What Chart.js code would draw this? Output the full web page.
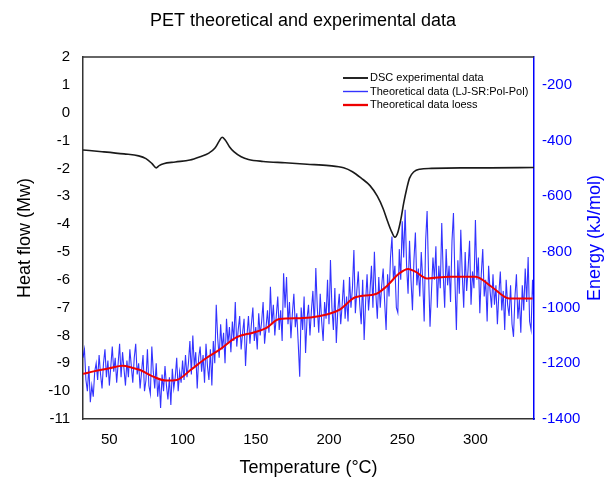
<!DOCTYPE html>
<html>
<head>
<meta charset="utf-8">
<script src="https://cdn.jsdelivr.net/npm/chart.js@4.4.1/dist/chart.umd.min.js"></script>
<style>
  body { margin: 0; background: #fff; }
  canvas { display: block; }
</style>
</head>
<body>
<canvas id="grafica" width="606" height="477"></canvas>
<script>
// DSC experimental curve (temperature °C, heat flow Mw)
const dscTemp = [32, 45, 60, 70, 75, 79, 82, 84, 87, 95, 105, 112, 118, 122, 125, 127, 129, 132, 135, 140, 145, 155, 170, 185, 200, 210, 216, 222, 228, 233, 237, 240, 243, 245, 247, 249, 251, 253, 255, 258, 262, 270, 290, 310, 340];
const dscHeat = [-1.34, -1.40, -1.48, -1.55, -1.65, -1.82, -1.98, -1.90, -1.83, -1.77, -1.70, -1.58, -1.45, -1.28, -1.02, -0.88, -0.97, -1.22, -1.40, -1.58, -1.68, -1.75, -1.80, -1.85, -1.90, -1.98, -2.12, -2.35, -2.62, -3.00, -3.45, -3.90, -4.30, -4.47, -4.30, -3.85, -3.25, -2.75, -2.35, -2.12, -2.03, -2.00, -1.98, -1.98, -1.97];

// theoretical energy (kJ/mol), one value per degree from 32 °C
const teoInicio = 32;
const teoEnergia = [
  -1180, -1150, -1260, -1300, -1210, -1340, -1280, -1320, -1230, -1200,
  -1260, -1170, -1240, -1290, -1200, -1150, -1250, -1190, -1280, -1210,
  -1140, -1230, -1180, -1270, -1200, -1130, -1250, -1160, -1220, -1280,
  -1190, -1250, -1150, -1210, -1270, -1180, -1130, -1240, -1200, -1290,
  -1230, -1170, -1300, -1260, -1150, -1280, -1310, -1140, -1230, -1290,
  -1200, -1320, -1260, -1360, -1240, -1300, -1210, -1280, -1330, -1250,
  -1350, -1220, -1290, -1250, -1180, -1300, -1230, -1270, -1190, -1260,
  -1170, -1250, -1200, -1120, -1240, -1100, -1210, -1160, -1290, -1180,
  -1140, -1230, -1170, -1270, -1130, -1210, -1260, -1150, -1280, -1120,
  -1200, -990, -1110, -1180, -1060, -1150, -1090, -1200, -1040, -1130,
  -1070, -1160, -1050, -1120, -980, -1140, -1080, -1030, -1150, -1090,
  -1040, -1210, -1100, -1030, -1130, -1060, -1000, -1120, -1070, -1150,
  -1020, -1100, -1050, -980, -1130, -1070, -1010, -1090, -925, -1060,
  -990, -1100, -1030, -960, -1080, -1010, -1120, -877, -1000, -890,
  -1060, -980, -1110, -1020, -950, -1070, -1020, -1130, -1248, -1000,
  -1080, -960, -1163, -1040, -990, -1100, -1010, -940, -1070, -858,
  -1000, -1090, -950, -1050, -1120, -980, -1040, -900, -1060, -829,
  -1000, -1080, -930, -1127, -1010, -950, -1060, -990, -900, -1040,
  -960, -1050, -890, -1000, -930, -793, -1020, -940, -870, -990,
  -1060, -900, -1116, -980, -880, -1010, -940, -850, -1000, -799,
  -950, -1040, -890, -1000, -920, -860, -980, -1080, -880, -960,
  -820, -745, -900, -850, -1000, -1018, -790, -900, -690, -820,
  -649, -850, -950, -760, -900, -1009, -830, -730, -920, -860,
  -960, -800, -900, -1050, -760, -653, -880, -1069, -940, -820,
  -900, -780, -1000, -850, -930, -696, -880, -1000, -790, -920,
  -850, -980, -760, -660, -900, -1080, -830, -950, -720, -880,
  -1000, -800, -940, -860, -760, -990, -870, -930, -685, -900,
  -820, -1020, -880, -790, -960, -900, -1050, -850, -940, -1000,
  -880, -990, -920, -1060, -950, -870, -1010, -940, -1080, -900,
  -990, -1030, -920, -1060, -1105, -960, -880, -1040, -970, -1090,
  -920, -1010, -860, -980, -818, -1050, -1080, -900, -1000
];

// loess smoothing of the theoretical data
const loessTemp = [32, 40, 50, 59, 65, 71, 80, 89, 96, 105, 116, 125, 137, 148, 157, 166, 180, 194, 207, 218, 232, 239, 248, 254, 259, 267, 282, 300, 311, 323, 339];
const loessEnergia = [-1238, -1228, -1218, -1209, -1215, -1224, -1248, -1262, -1260, -1226, -1182, -1152, -1106, -1090, -1074, -1041, -1038, -1030, -1008, -963, -951, -925, -877, -861, -871, -895, -889, -889, -925, -967, -967];

const xTicks = [50, 100, 150, 200, 250, 300];
const yTicks = [2, 1, 0, -1, -2, -3, -4, -5, -6, -7, -8, -9, -10, -11];
const y2Ticks = [-200, -400, -600, -800, -1000, -1200, -1400];

const fuente = "'Liberation Sans', Arial, sans-serif";

const marco = {
    id: 'marco',
    afterDatasetsDraw(chart) {
        const { ctx, chartArea } = chart;
        ctx.save();
        // top border of the frame
        ctx.strokeStyle = '#333';
        ctx.lineWidth = 1.5;
        ctx.beginPath();
        ctx.moveTo(chartArea.left, chartArea.top);
        ctx.lineTo(chartArea.right, chartArea.top);
        ctx.stroke();

        // legend inside the plot
        ctx.font = '11px ' + fuente;
        ctx.textBaseline = 'middle';
        chart.data.datasets.forEach((ds, i) => {
            const y = 78 + i * 13.5;
            ctx.strokeStyle = ds.borderColor;
            ctx.lineWidth = ds.borderWidth + 0.3;
            ctx.beginPath();
            ctx.moveTo(343, y);
            ctx.lineTo(368, y);
            ctx.stroke();
            ctx.fillStyle = '#000';
            ctx.fillText(ds.label, 370, y);
        });

        // right axis title, read bottom to top like the left one
        ctx.translate(595, (chartArea.top + chartArea.bottom) / 2);
        ctx.rotate(-Math.PI / 2);
        ctx.font = '18px ' + fuente;
        ctx.textAlign = 'center';
        ctx.fillStyle = '#0000ff';
        ctx.fillText('Energy (kJ/mol)', 0, 0);
        ctx.restore();
    }
};

const sinComa = v => String(v);

const ctx = document.getElementById('grafica').getContext('2d');
new Chart(ctx, {
    type: 'line',
    data: {
        datasets: [{
            label: 'DSC experimental data',
            data: dscTemp.map((t, i) => ({ x: t, y: dscHeat[i] })),
            yAxisID: 'y',
            borderColor: '#1a1a1a',
            borderWidth: 1.6,
            cubicInterpolationMode: 'monotone',
            pointRadius: 0,
            order: 0
        }, {
            label: 'Theoretical data (LJ-SR:Pol-Pol)',
            data: teoEnergia.map((e, i) => ({ x: teoInicio + i, y: e })),
            yAxisID: 'y2',
            borderColor: 'rgba(0, 0, 255, 0.8)',
            borderWidth: 1.1,
            pointRadius: 0,
            order: 2
        }, {
            label: 'Theoretical data loess',
            data: loessTemp.map((t, i) => ({ x: t, y: loessEnergia[i] })),
            yAxisID: 'y2',
            borderColor: '#ee0000',
            borderWidth: 2,
            cubicInterpolationMode: 'monotone',
            pointRadius: 0,
            order: 1
        }]
    },
    options: {
        responsive: false,
        animation: false,
        layout: { padding: 0 },
        plugins: {
            legend: { display: false },
            tooltip: { enabled: false },
            title: {
                display: true,
                text: 'PET theoretical and experimental data',
                color: '#000',
                font: { family: fuente, size: 18, weight: 'normal', lineHeight: 1.2 },
                padding: { top: 10, bottom: 25.4 }
            }
        },
        scales: {
            x: {
                type: 'linear',
                min: 32,
                max: 340,
                afterBuildTicks: s => { s.ticks = xTicks.map(v => ({ value: v })); },
                afterFit: s => { s.height = 58; },
                grid: { display: false, drawTicks: false },
                border: { display: true, color: '#333', width: 1.5 },
                ticks: { color: '#000', padding: 12, maxRotation: 0, callback: sinComa, font: { family: fuente, size: 15 } },
                title: {
                    display: true,
                    text: 'Temperature (°C)',
                    color: '#000',
                    font: { family: fuente, size: 18, lineHeight: 1 },
                    padding: { top: 0, bottom: 0 }
                }
            },
            y: {
                position: 'left',
                min: -11,
                max: 2,
                afterBuildTicks: s => { s.ticks = yTicks.map(v => ({ value: v })); },
                afterFit: s => { s.width = 83; },
                grid: { display: false, drawTicks: false },
                border: { display: true, color: '#333', width: 1.5 },
                ticks: { color: '#000', padding: 13, callback: sinComa, font: { family: fuente, size: 15 } },
                title: {
                    display: true,
                    text: 'Heat flow (Mw)',
                    color: '#000',
                    font: { family: fuente, size: 18, lineHeight: 1 },
                    padding: { top: 16, bottom: 0 }
                }
            },
            y2: {
                position: 'right',
                min: -1400,
                max: -100,
                afterBuildTicks: s => { s.ticks = y2Ticks.map(v => ({ value: v })); },
                afterFit: s => { s.width = 72; },
                grid: { display: false, drawTicks: false },
                border: { display: true, color: '#0000ff', width: 1.5 },
                ticks: { color: '#0000ff', padding: 8, callback: sinComa, font: { family: fuente, size: 15 } },
                title: { display: false }
            }
        }
    },
    plugins: [marco]
});
</script>
</body>
</html>
